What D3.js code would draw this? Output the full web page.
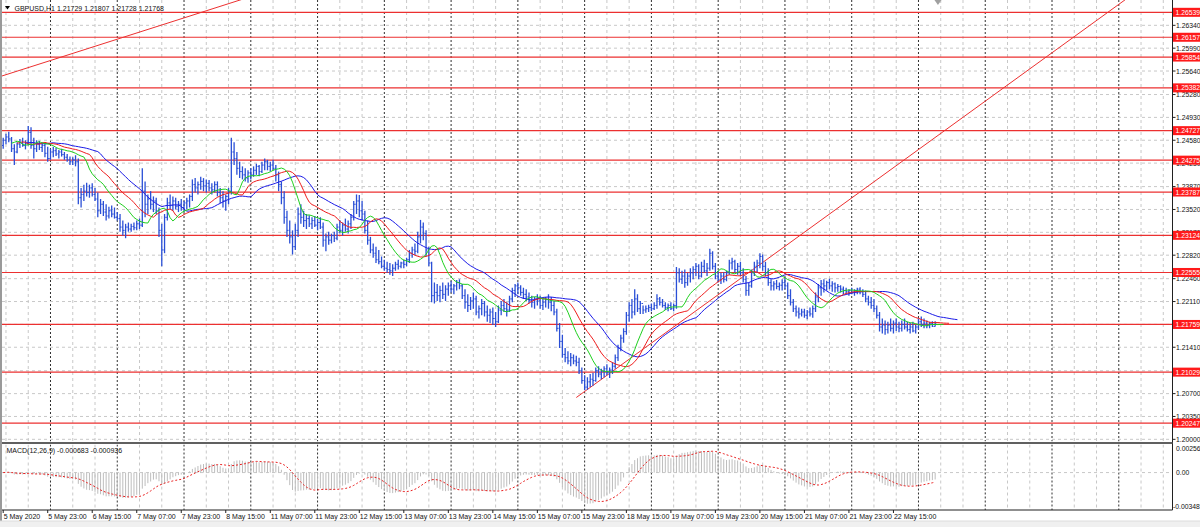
<!DOCTYPE html>
<html>
<head>
<meta charset="utf-8">
<script src="https://cdn.jsdelivr.net/npm/d3@7/dist/d3.min.js"></script>
<style>
html,body{margin:0;padding:0;background:#fff;overflow:hidden;}
svg{display:block;}
text{font-family:"Liberation Sans",Arial,sans-serif;}
</style>
</head>
<body>
<svg id="chart" width="1200" height="527"></svg>
<script>
// ================= DATA =================
const symbolTitle = "GBPUSD,H1";
const lastOHLC = ["1.21729", "1.21807", "1.21728", "1.21768"];
const macdTitle = "MACD(12,26,9)";
const macdLast = ["-0.000683", "-0.000936"];

const timeLabels = ["5 May 2020","5 May 23:00","6 May 15:00","7 May 07:00","7 May 23:00","8 May 15:00",
  "11 May 07:00","11 May 23:00","12 May 15:00","13 May 07:00","13 May 23:00","14 May 15:00",
  "15 May 07:00","15 May 23:00","18 May 15:00","19 May 07:00","19 May 23:00","20 May 15:00",
  "21 May 07:00","21 May 23:00","22 May 15:00"];
const barsPerTimeLabel = 16;

const priceTicks = [1.26340,1.25990,1.25640,1.25280,1.24930,1.24580,1.24230,1.23870,1.23520,1.23170,
  1.22820,1.22460,1.22110,1.21760,1.21410,1.21050,1.20700,1.20350,1.20000];
const priceLevels = [1.26539,1.26157,1.25854,1.25382,1.24727,1.24275,1.23787,1.23124,1.22555,1.21759,1.21029,1.20247];
const trendStart = [[0, 1.25570], [206, 1.20640]];
const trendEnd   = [[82, 1.26685], [286, 1.23110]];

const macdRange = [-0.003487, 0.002563];
const macdLabels = ["0.002563", "0.00", "-0.003487"];
const macdLabelValues = [0.002563, 0, -0.003487];

const high = [1.2462,1.2468,1.2471,1.2463,1.2452,1.2455,1.2460,1.2462,1.2458,1.2480,
1.2478,1.2462,1.2458,1.2457,1.2455,1.2454,1.2448,1.2445,1.2448,1.2446,
1.2443,1.2445,1.2440,1.2437,1.2433,1.2432,1.2435,1.2430,1.2385,1.2390,
1.2393,1.2390,1.2392,1.2385,1.2378,1.2368,1.2365,1.2360,1.2356,1.2358,
1.2355,1.2348,1.2345,1.2335,1.2330,1.2332,1.2330,1.2332,1.2335,1.2338,
1.2415,1.2395,1.2375,1.2380,1.2372,1.2370,1.2355,1.2330,1.2345,1.2370,
1.2375,1.2372,1.2370,1.2365,1.2368,1.2365,1.2370,1.2375,1.2398,1.2400,
1.2395,1.2402,1.2400,1.2398,1.2397,1.2392,1.2395,1.2395,1.2385,1.2380,
1.2375,1.2385,1.2462,1.2455,1.2440,1.2425,1.2418,1.2415,1.2412,1.2415,
1.2418,1.2422,1.2420,1.2425,1.2430,1.2428,1.2425,1.2428,1.2420,1.2410,
1.2395,1.2380,1.2350,1.2335,1.2320,1.2330,1.2355,1.2360,1.2350,1.2345,
1.2343,1.2340,1.2342,1.2338,1.2340,1.2332,1.2315,1.2318,1.2315,1.2318,
1.2330,1.2336,1.2332,1.2338,1.2335,1.2345,1.2365,1.2375,1.2374,1.2365,
1.2350,1.2335,1.2310,1.2300,1.2295,1.2290,1.2280,1.2275,1.2272,1.2270,
1.2268,1.2272,1.2275,1.2272,1.2275,1.2278,1.2290,1.2295,1.2300,1.2318,
1.2336,1.2332,1.2320,1.2295,1.2272,1.2240,1.2238,1.2235,1.2240,1.2236,
1.2240,1.2242,1.2238,1.2244,1.2245,1.2238,1.2230,1.2222,1.2218,1.2225,
1.2220,1.2205,1.2215,1.2212,1.2205,1.2200,1.2202,1.2195,1.2205,1.2212,
1.2215,1.2210,1.2220,1.2232,1.2238,1.2240,1.2236,1.2232,1.2230,1.2225,
1.2220,1.2218,1.2222,1.2220,1.2215,1.2218,1.2222,1.2218,1.2212,1.2200,
1.2178,1.2160,1.2140,1.2135,1.2132,1.2130,1.2128,1.2125,1.2110,1.2098,
1.2095,1.2100,1.2102,1.2110,1.2112,1.2108,1.2112,1.2115,1.2110,1.2118,
1.2130,1.2145,1.2160,1.2170,1.2195,1.2210,1.2215,1.2230,1.2222,1.2212,
1.2205,1.2205,1.2206,1.2208,1.2210,1.2222,1.2218,1.2215,1.2210,1.2208,
1.2210,1.2208,1.2264,1.2262,1.2258,1.2260,1.2255,1.2262,1.2265,1.2270,
1.2268,1.2272,1.2275,1.2270,1.2292,1.2288,1.2270,1.2258,1.2255,1.2256,
1.2258,1.2275,1.2278,1.2275,1.2270,1.2272,1.2262,1.2250,1.2240,1.2260,
1.2272,1.2275,1.2285,1.2283,1.2272,1.2262,1.2245,1.2242,1.2244,1.2240,
1.2245,1.2248,1.2240,1.2230,1.2215,1.2205,1.2202,1.2200,1.2200,1.2198,
1.2202,1.2205,1.2225,1.2238,1.2244,1.2245,1.2243,1.2246,1.2242,1.2240,
1.2238,1.2236,1.2234,1.2232,1.2230,1.2232,1.2230,1.2232,1.2233,1.2230,
1.2228,1.2220,1.2218,1.2215,1.2205,1.2195,1.2185,1.2182,1.2180,1.2185,
1.2182,1.2185,1.2180,1.2182,1.2185,1.2180,1.2178,1.2180,1.2176,1.2185,
1.2188,1.2185,1.2182,1.2180,1.2181,1.21807];

const low = [1.2445,1.2452,1.2455,1.2440,1.2420,1.2438,1.2446,1.2448,1.2444,1.2450,
1.2445,1.2430,1.2440,1.2443,1.2440,1.2432,1.2425,1.2428,1.2432,1.2434,
1.2430,1.2433,1.2428,1.2425,1.2420,1.2420,1.2418,1.2360,1.2355,1.2365,
1.2372,1.2370,1.2372,1.2365,1.2340,1.2345,1.2342,1.2335,1.2338,1.2340,
1.2338,1.2335,1.2318,1.2312,1.2308,1.2318,1.2318,1.2320,1.2320,1.2322,
1.2325,1.2340,1.2345,1.2352,1.2348,1.2345,1.2310,1.2265,1.2285,1.2335,
1.2352,1.2350,1.2352,1.2348,1.2350,1.2348,1.2352,1.2355,1.2365,1.2378,
1.2375,1.2382,1.2380,1.2378,1.2380,1.2375,1.2378,1.2372,1.2362,1.2355,
1.2350,1.2360,1.2375,1.2420,1.2405,1.2400,1.2398,1.2395,1.2393,1.2398,
1.2402,1.2405,1.2403,1.2408,1.2412,1.2412,1.2410,1.2412,1.2395,1.2380,
1.2360,1.2330,1.2310,1.2300,1.2283,1.2290,1.2310,1.2330,1.2325,1.2322,
1.2325,1.2322,1.2325,1.2320,1.2322,1.2295,1.2288,1.2298,1.2300,1.2302,
1.2305,1.2315,1.2312,1.2318,1.2315,1.2322,1.2335,1.2345,1.2340,1.2335,
1.2315,1.2298,1.2285,1.2278,1.2270,1.2268,1.2262,1.2258,1.2255,1.2252,
1.2250,1.2258,1.2260,1.2262,1.2262,1.2265,1.2270,1.2278,1.2282,1.2285,
1.2300,1.2305,1.2280,1.2265,1.2210,1.2208,1.2212,1.2210,1.2215,1.2212,
1.2220,1.2225,1.2222,1.2228,1.2230,1.2215,1.2200,1.2195,1.2198,1.2200,
1.2190,1.2185,1.2190,1.2188,1.2180,1.2178,1.2175,1.2172,1.2178,1.2190,
1.2195,1.2188,1.2195,1.2210,1.2218,1.2222,1.2220,1.2215,1.2212,1.2208,
1.2202,1.2200,1.2205,1.2200,1.2198,1.2202,1.2200,1.2196,1.2190,1.2165,
1.2140,1.2125,1.2118,1.2115,1.2112,1.2115,1.2112,1.2100,1.2085,1.2075,
1.2076,1.2080,1.2082,1.2088,1.2095,1.2092,1.2095,1.2098,1.2094,1.2100,
1.2108,1.2120,1.2135,1.2148,1.2160,1.2180,1.2185,1.2190,1.2195,1.2192,
1.2192,1.2194,1.2195,1.2196,1.2198,1.2200,1.2205,1.2202,1.2198,1.2196,
1.2198,1.2196,1.2200,1.2240,1.2238,1.2232,1.2235,1.2240,1.2245,1.2250,
1.2245,1.2248,1.2255,1.2250,1.2258,1.2260,1.2245,1.2240,1.2238,1.2240,
1.2242,1.2252,1.2260,1.2255,1.2252,1.2250,1.2240,1.2220,1.2220,1.2232,
1.2250,1.2255,1.2262,1.2258,1.2250,1.2235,1.2228,1.2228,1.2230,1.2228,
1.2228,1.2230,1.2215,1.2205,1.2195,1.2188,1.2185,1.2188,1.2186,1.2184,
1.2188,1.2186,1.2195,1.2210,1.2220,1.2225,1.2228,1.2230,1.2226,1.2225,
1.2226,1.2225,1.2222,1.2222,1.2220,1.2222,1.2220,1.2222,1.2222,1.2218,
1.2210,1.2205,1.2200,1.2195,1.2185,1.2165,1.2162,1.2160,1.2162,1.2165,
1.2162,1.2166,1.2164,1.2165,1.2168,1.2165,1.2162,1.2164,1.2162,1.2168,
1.2172,1.2170,1.2170,1.2170,1.2172,1.21728];

const open = [1.2450,1.2458,1.2463,1.2460,1.2445,1.2440,1.2452,1.2455,1.2450,1.2455,
1.2470,1.2450,1.2445,1.2452,1.2447,1.2450,1.2438,1.2430,1.2440,1.2442,
1.2437,1.2440,1.2436,1.2432,1.2428,1.2425,1.2428,1.2425,1.2370,1.2375,
1.2380,1.2378,1.2385,1.2375,1.2368,1.2350,1.2360,1.2348,1.2342,1.2350,
1.2345,1.2340,1.2338,1.2325,1.2320,1.2325,1.2322,1.2326,1.2324,1.2330,
1.2328,1.2380,1.2360,1.2368,1.2360,1.2365,1.2350,1.2320,1.2290,1.2340,
1.2362,1.2358,1.2365,1.2357,1.2360,1.2355,1.2362,1.2365,1.2372,1.2390,
1.2385,1.2390,1.2395,1.2388,1.2392,1.2385,1.2382,1.2390,1.2378,1.2370,
1.2365,1.2372,1.2380,1.2440,1.2430,1.2415,1.2410,1.2405,1.2400,1.2408,
1.2405,1.2412,1.2418,1.2410,1.2420,1.2425,1.2418,1.2420,1.2415,1.2405,
1.2390,1.2370,1.2340,1.2320,1.2310,1.2295,1.2320,1.2345,1.2340,1.2335,
1.2338,1.2330,1.2335,1.2328,1.2332,1.2325,1.2305,1.2310,1.2305,1.2312,
1.2308,1.2325,1.2320,1.2328,1.2322,1.2330,1.2340,1.2360,1.2365,1.2350,
1.2345,1.2320,1.2305,1.2290,1.2285,1.2275,1.2272,1.2265,1.2262,1.2260,
1.2258,1.2262,1.2268,1.2265,1.2270,1.2268,1.2275,1.2285,1.2290,1.2288,
1.2310,1.2325,1.2315,1.2290,1.2270,1.2220,1.2225,1.2220,1.2228,1.2222,
1.2230,1.2235,1.2230,1.2235,1.2240,1.2235,1.2220,1.2210,1.2205,1.2212,
1.2215,1.2195,1.2200,1.2208,1.2195,1.2190,1.2195,1.2185,1.2180,1.2198,
1.2205,1.2200,1.2198,1.2215,1.2228,1.2235,1.2232,1.2225,1.2222,1.2218,
1.2212,1.2210,1.2215,1.2212,1.2205,1.2210,1.2214,1.2210,1.2205,1.2195,
1.2170,1.2150,1.2130,1.2125,1.2120,1.2125,1.2120,1.2118,1.2105,1.2090,
1.2080,1.2088,1.2092,1.2090,1.2105,1.2100,1.2104,1.2108,1.2102,1.2106,
1.2112,1.2125,1.2140,1.2155,1.2165,1.2190,1.2205,1.2195,1.2215,1.2200,
1.2208,1.2198,1.2200,1.2202,1.2200,1.2205,1.2215,1.2210,1.2205,1.2202,
1.2205,1.2200,1.2205,1.2255,1.2245,1.2250,1.2240,1.2250,1.2255,1.2260,
1.2265,1.2250,1.2265,1.2258,1.2262,1.2285,1.2265,1.2250,1.2245,1.2250,
1.2245,1.2255,1.2270,1.2272,1.2260,1.2265,1.2255,1.2245,1.2228,1.2235,
1.2255,1.2265,1.2270,1.2280,1.2265,1.2255,1.2240,1.2235,1.2238,1.2234,
1.2236,1.2240,1.2235,1.2220,1.2210,1.2200,1.2195,1.2192,1.2195,1.2190,
1.2195,1.2192,1.2200,1.2218,1.2232,1.2238,1.2235,1.2240,1.2235,1.2238,
1.2232,1.2234,1.2230,1.2228,1.2226,1.2228,1.2225,1.2228,1.2230,1.2226,
1.2222,1.2215,1.2210,1.2205,1.2200,1.2190,1.2172,1.2175,1.2168,1.2175,
1.2170,1.2178,1.2172,1.2170,1.2176,1.2172,1.2168,1.2172,1.2166,1.2172,
1.2180,1.2176,1.2178,1.2174,1.2177,1.21729];

const close = [1.2458,1.2463,1.2460,1.2445,1.2440,1.2452,1.2455,1.2450,1.2455,1.2470,
1.2450,1.2445,1.2452,1.2447,1.2450,1.2438,1.2430,1.2440,1.2442,1.2437,
1.2440,1.2436,1.2432,1.2428,1.2425,1.2428,1.2425,1.2370,1.2375,1.2380,
1.2378,1.2385,1.2375,1.2368,1.2350,1.2360,1.2348,1.2342,1.2350,1.2345,
1.2340,1.2338,1.2325,1.2320,1.2325,1.2322,1.2326,1.2324,1.2330,1.2328,
1.2380,1.2360,1.2368,1.2360,1.2365,1.2350,1.2320,1.2290,1.2340,1.2362,
1.2358,1.2365,1.2357,1.2360,1.2355,1.2362,1.2365,1.2372,1.2390,1.2385,
1.2390,1.2395,1.2388,1.2392,1.2385,1.2382,1.2390,1.2378,1.2370,1.2365,
1.2372,1.2380,1.2440,1.2430,1.2415,1.2410,1.2405,1.2400,1.2408,1.2405,
1.2412,1.2418,1.2410,1.2420,1.2425,1.2418,1.2420,1.2415,1.2405,1.2390,
1.2370,1.2340,1.2320,1.2310,1.2295,1.2320,1.2345,1.2340,1.2335,1.2338,
1.2330,1.2335,1.2328,1.2332,1.2325,1.2305,1.2310,1.2305,1.2312,1.2308,
1.2325,1.2320,1.2328,1.2322,1.2330,1.2340,1.2360,1.2365,1.2350,1.2345,
1.2320,1.2305,1.2290,1.2285,1.2275,1.2272,1.2265,1.2262,1.2260,1.2258,
1.2262,1.2268,1.2265,1.2270,1.2268,1.2275,1.2285,1.2290,1.2288,1.2310,
1.2325,1.2315,1.2290,1.2270,1.2220,1.2225,1.2220,1.2228,1.2222,1.2230,
1.2235,1.2230,1.2235,1.2240,1.2235,1.2220,1.2210,1.2205,1.2212,1.2215,
1.2195,1.2200,1.2208,1.2195,1.2190,1.2195,1.2185,1.2180,1.2198,1.2205,
1.2200,1.2198,1.2215,1.2228,1.2235,1.2232,1.2225,1.2222,1.2218,1.2212,
1.2210,1.2215,1.2212,1.2205,1.2210,1.2214,1.2210,1.2205,1.2195,1.2170,
1.2150,1.2130,1.2125,1.2120,1.2125,1.2120,1.2118,1.2105,1.2090,1.2080,
1.2088,1.2092,1.2090,1.2105,1.2100,1.2104,1.2108,1.2102,1.2106,1.2112,
1.2125,1.2140,1.2155,1.2165,1.2190,1.2205,1.2195,1.2215,1.2200,1.2208,
1.2198,1.2200,1.2202,1.2200,1.2205,1.2215,1.2210,1.2205,1.2202,1.2205,
1.2200,1.2205,1.2255,1.2245,1.2250,1.2240,1.2250,1.2255,1.2260,1.2265,
1.2250,1.2265,1.2258,1.2262,1.2285,1.2265,1.2250,1.2245,1.2250,1.2245,
1.2255,1.2270,1.2272,1.2260,1.2265,1.2255,1.2245,1.2228,1.2235,1.2255,
1.2265,1.2270,1.2280,1.2265,1.2255,1.2240,1.2235,1.2238,1.2234,1.2236,
1.2240,1.2235,1.2220,1.2210,1.2200,1.2195,1.2192,1.2195,1.2190,1.2195,
1.2192,1.2200,1.2218,1.2232,1.2238,1.2235,1.2240,1.2235,1.2238,1.2232,
1.2234,1.2230,1.2228,1.2226,1.2228,1.2225,1.2228,1.2230,1.2226,1.2222,
1.2215,1.2210,1.2205,1.2200,1.2190,1.2172,1.2175,1.2168,1.2175,1.2170,
1.2178,1.2172,1.2170,1.2176,1.2172,1.2168,1.2172,1.2166,1.2172,1.2180,
1.2176,1.2178,1.2174,1.2177,1.2173,1.21768];

// Indicator settings (Alligator 13/8/5 shifted 8/5/3, MACD 12/26/9)
const alligatorPeriods = [13, 8, 5];
const alligatorShifts = [8, 5, 3];
const macdPeriods = [12, 26, 9];

// ================= LAYOUT =================
const svg = d3.select("#chart");
const N = Math.min(high.length, low.length, open.length, close.length);
const plotL = 2, plotR = 1172.5;
const mainTop = 0, mainBot = 441.5;
const subTop = 444.5, subBot = 510;

const x = d3.scaleLinear().domain([0, 419.9]).range([3.2, 3.2 + 419.9 * 2.782]);
const y = d3.scaleLinear().domain([1.19959, 1.26697]).range([442, 2]);
const ym = d3.scaleLinear().domain(macdRange).range([506, 448]);

svg.append("rect").attr("width", 1200).attr("height", 527).attr("fill", "#fff");

const defs = svg.append("defs");
defs.append("clipPath").attr("id", "clipMain").append("rect")
  .attr("x", plotL).attr("y", mainTop).attr("width", plotR - plotL).attr("height", mainBot - mainTop);
defs.append("clipPath").attr("id", "clipSub").append("rect")
  .attr("x", plotL).attr("y", subTop).attr("width", plotR - plotL).attr("height", subBot - subTop);

const gMain = svg.append("g").attr("clip-path", "url(#clipMain)");
const gSub = svg.append("g").attr("clip-path", "url(#clipSub)");

// vertical grid (every 8 bars, day separators every 24 bars)
const gridBars = d3.range(1, 420, 8);
[gMain, gSub].forEach((g, k) => {
  const t = k === 0 ? mainTop : subTop, b = k === 0 ? mainBot : subBot;
  g.selectAll("line.vg").data(gridBars).join("line")
    .attr("x1", d => x(d)).attr("x2", d => x(d)).attr("y1", t).attr("y2", b)
    .attr("stroke", d => ((d - 17) % 24 === 0) ? "#303030" : "#c8c8c8")
    .attr("stroke-width", 1)
    .attr("stroke-dasharray", d => ((d - 17) % 24 === 0) ? "2,2" : "3,3");
});

// horizontal grid main
gMain.selectAll("line.hg").data(priceTicks).join("line")
  .attr("x1", plotL).attr("x2", plotR).attr("y1", d => y(d)).attr("y2", d => y(d))
  .attr("stroke", "#c8c8c8").attr("stroke-dasharray", "3,3");
// zero line macd
gSub.append("line").attr("x1", plotL).attr("x2", plotR).attr("y1", ym(0)).attr("y2", ym(0))
  .attr("stroke", "#c8c8c8").attr("stroke-dasharray", "3,3");

// horizontal levels
gMain.selectAll("line.lvl").data(priceLevels).join("line")
  .attr("x1", plotL).attr("x2", plotR).attr("y1", d => y(d)).attr("y2", d => y(d))
  .attr("stroke", "#ec3030").attr("stroke-width", 1.2);

// trend lines (rays to the right)
trendStart.forEach((s, k) => {
  const e = trendEnd[k];
  const slope = (e[1] - s[1]) / (e[0] - s[0]);
  const b0 = k === 0 ? -5 : s[0];
  const b1 = 430;
  gMain.append("line")
    .attr("x1", x(b0)).attr("y1", y(s[1] + slope * (b0 - s[0])))
    .attr("x2", x(b1)).attr("y2", y(s[1] + slope * (b1 - s[0])))
    .attr("stroke", "#ec3030").attr("stroke-width", 1);
});

// price bars
const idx = d3.range(N);
const barColor = "#2a4fd6";
gMain.append("g").selectAll("line").data(idx).join("line")
  .attr("x1", i => x(i)).attr("x2", i => x(i))
  .attr("y1", i => y(high[i])).attr("y2", i => y(low[i]))
  .attr("stroke", barColor).attr("stroke-width", 1.3);
gMain.append("g").selectAll("line").data(idx).join("line")
  .attr("x1", i => x(i) - 1.2).attr("x2", i => x(i))
  .attr("y1", i => y(open[i])).attr("y2", i => y(open[i]))
  .attr("stroke", barColor).attr("stroke-width", 1);
gMain.append("g").selectAll("line").data(idx).join("line")
  .attr("x1", i => x(i)).attr("x2", i => x(i) + 1.2)
  .attr("y1", i => y(close[i])).attr("y2", i => y(close[i]))
  .attr("stroke", barColor).attr("stroke-width", 1);

// Alligator (smoothed MA of median price)
const median = idx.map(i => (high[i] + low[i]) / 2);
function smma(src, n) {
  let v = src[0];
  return src.map((s, i) => (i === 0 ? v : (v = (v * (n - 1) + s) / n)));
}
const allColors = ["#1a1ae6", "#ee1c1c", "#1ecf1e"];
alligatorPeriods.forEach((p, k) => {
  const vals = smma(median, p);
  const sh = alligatorShifts[k];
  const line = d3.line().x((d, i) => x(i + sh)).y(d => y(d));
  gMain.append("path").datum(vals).attr("d", line)
    .attr("fill", "none").attr("stroke", allColors[k]).attr("stroke-width", 1);
});

// MACD
function ema(src, n) {
  const a = 2 / (n + 1);
  let v = src[0];
  return src.map((s, i) => (i === 0 ? v : (v = v + a * (s - v))));
}
const e1 = ema(close, macdPeriods[0]), e2 = ema(close, macdPeriods[1]);
const macdMain = idx.map(i => e1[i] - e2[i]);
const macdSignal = idx.map(i => {
  const from = Math.max(0, i - macdPeriods[2] + 1);
  return d3.mean(macdMain.slice(from, i + 1));
});
gSub.append("g").selectAll("line").data(idx).join("line")
  .attr("x1", i => x(i)).attr("x2", i => x(i))
  .attr("y1", ym(0)).attr("y2", i => ym(macdMain[i]))
  .attr("stroke", "#bdbdbd").attr("stroke-width", 1);
gSub.append("path").datum(macdSignal)
  .attr("d", d3.line().x((d, i) => x(i)).y(d => ym(d)))
  .attr("fill", "none").attr("stroke", "#e82020").attr("stroke-width", 1)
  .attr("stroke-dasharray", "2,2");

// ================= FRAMES =================
svg.append("rect").attr("x", 0).attr("y", 0).attr("width", 2).attr("height", 521).attr("fill", "#9a9a9a");
svg.append("line").attr("x1", plotR).attr("x2", plotR).attr("y1", 0).attr("y2", subBot)
  .attr("stroke", "#202020").attr("stroke-width", 1);
svg.append("rect").attr("x", plotL).attr("y", 442).attr("width", plotR - plotL).attr("height", 2).attr("fill", "#606060");
svg.append("line").attr("x1", plotL).attr("x2", plotR).attr("y1", subBot).attr("y2", subBot)
  .attr("stroke", "#202020").attr("stroke-width", 1);
svg.append("rect").attr("x", 0).attr("y", 521).attr("width", 1200).attr("height", 6).attr("fill", "#f0f0f0");
svg.append("line").attr("x1", 0).attr("x2", 1200).attr("y1", 521).attr("y2", 521).attr("stroke", "#dcdcdc");

// shift marker
svg.append("path").attr("d", d3.line()([[x(N) - 3.5, 0], [x(N) + 3.5, 0], [x(N), 5]]) + "Z").attr("fill", "#a0a0a0");

// ================= TEXT =================
const fmt5 = d3.format(".5f");
svg.append("g").selectAll("line").data(priceTicks).join("line")
  .attr("x1", plotR).attr("x2", plotR + 3).attr("y1", d => y(d)).attr("y2", d => y(d))
  .attr("stroke", "#202020");
svg.append("g").selectAll("text").data(priceTicks).join("text")
  .attr("x", 1176).attr("y", d => y(d) + 2.5)
  .attr("font-size", 6.8).attr("fill", "#111").text(d => fmt5(d));

const lv = svg.append("g").selectAll("g").data(priceLevels).join("g");
lv.append("rect").attr("x", 1173).attr("y", d => y(d) - 4.5).attr("width", 27).attr("height", 9).attr("fill", "#ff1a1a");
lv.append("text").attr("x", 1175.5).attr("y", d => y(d) + 2.6)
  .attr("font-size", 6.8).attr("fill", "#fff").text(d => fmt5(d));

svg.append("g").selectAll("text").data(macdLabelValues).join("text")
  .attr("x", (d, i) => i === 2 ? 1173 : 1176)
  .attr("y", (d, i) => ym(d) + (i === 0 ? 3 : 2.5))
  .attr("font-size", 6.8).attr("fill", "#111").text((d, i) => macdLabels[i]);

const tl = svg.append("g").selectAll("g").data(timeLabels).join("g");
tl.append("line").attr("x1", (d, i) => x(i * barsPerTimeLabel)).attr("x2", (d, i) => x(i * barsPerTimeLabel))
  .attr("y1", subBot).attr("y2", subBot + 3).attr("stroke", "#202020");
tl.append("text").attr("x", (d, i) => x(i * barsPerTimeLabel) + 0.5).attr("y", 518.5)
  .attr("font-size", 7).attr("fill", "#111").text(d => d);

svg.append("path").attr("d", "M5,6 L10,6 L7.5,9.5 Z").attr("fill", "#000");
svg.append("text").attr("x", 14.5).attr("y", 10.5).attr("font-size", 7).attr("fill", "#111")
  .text(symbolTitle + " " + lastOHLC.join(" "));
svg.append("text").attr("x", 6.5).attr("y", 452.5).attr("font-size", 7).attr("fill", "#111")
  .text(macdTitle + " " + macdLast.join(" "));
</script>
</body>
</html>
